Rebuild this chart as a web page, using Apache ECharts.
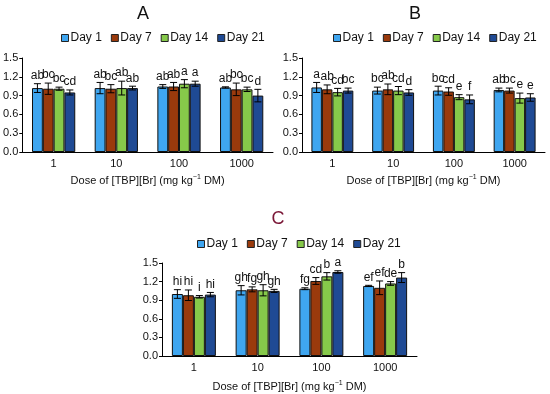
<!DOCTYPE html>
<html><head><meta charset="utf-8">
<script src="https://cdn.jsdelivr.net/npm/echarts@6/dist/echarts.min.js"></script>
<style>html,body{margin:0;padding:0;background:#fff}#c{width:550px;height:394px}</style>
</head><body><div id="c"></div>
<script>
const categories = ['1', '10', '100', '1000'];
const days = ['Day 1', 'Day 7', 'Day 14', 'Day 21'];
const yTicks = [0, 0.3, 0.6, 0.9, 1.2, 1.5];

// Panel A: means, errors, letters (per day, per dose)
const A_day1 = [1.02, 1.02, 1.045, 1.03];
const A_day7 = [1.01, 1.01, 1.045, 1.00];
const A_day14 = [1.01, 1.02, 1.09, 1.00];
const A_day21 = [0.95, 1.02, 1.09, 0.90];
const A_err1 = [0.07, 0.09, 0.03, 0.01];
const A_err7 = [0.09, 0.065, 0.065, 0.10];
const A_err14 = [0.025, 0.11, 0.065, 0.035];
const A_err21 = [0.04, 0.03, 0.04, 0.10];
const A_let1 = ['ab', 'ab', 'ab', 'ab'];
const A_let7 = ['bc', 'bc', 'ab', 'bc'];
const A_let14 = ['bc', 'ab', 'a', 'bc'];
const A_let21 = ['cd', 'ab', 'a', 'd'];

// Panel B
const B_day1 = [1.03, 0.98, 0.98, 0.99];
const B_day7 = [1.00, 1.00, 0.965, 0.98];
const B_day14 = [0.955, 0.98, 0.875, 0.86];
const B_day21 = [0.98, 0.95, 0.84, 0.87];
const B_err1 = [0.08, 0.055, 0.07, 0.03];
const B_err7 = [0.07, 0.085, 0.06, 0.04];
const B_err14 = [0.06, 0.065, 0.04, 0.08];
const B_err21 = [0.04, 0.045, 0.07, 0.06];
const B_let1 = ['a', 'bc', 'bc', 'ab'];
const B_let7 = ['ab', 'ab', 'cd', 'bc'];
const B_let14 = ['cd', 'cd', 'e', 'e'];
const B_let21 = ['bc', 'd', 'f', 'e'];

// Panel C
const C_day1 = [1.0, 1.06, 1.085, 1.13];
const C_day7 = [0.98, 1.075, 1.21, 1.10];
const C_day14 = [0.955, 1.06, 1.285, 1.17];
const C_day21 = [0.99, 1.05, 1.355, 1.265];
const C_err1 = [0.07, 0.075, 0.015, 0.01];
const C_err7 = [0.085, 0.04, 0.055, 0.11];
const C_err14 = [0.02, 0.09, 0.06, 0.03];
const C_err21 = [0.035, 0.025, 0.02, 0.08];
const C_let1 = ['hi', 'gh', 'fg', 'ef'];
const C_let7 = ['hi', 'fg', 'cd', 'ef'];
const C_let14 = ['i', 'gh', 'b', 'de'];
const C_let21 = ['hi', 'gh', 'a', 'b'];

const panels = [
  {title: 'A', means: [A_day1, A_day7, A_day14, A_day21], errs: [A_err1, A_err7, A_err14, A_err21], lets: [A_let1, A_let7, A_let14, A_let21]},
  {title: 'B', means: [B_day1, B_day7, B_day14, B_day21], errs: [B_err1, B_err7, B_err14, B_err21], lets: [B_let1, B_let7, B_let14, B_let21]},
  {title: 'C', means: [C_day1, C_day7, C_day14, C_day21], errs: [C_err1, C_err7, C_err14, C_err21], lets: [C_let1, C_let7, C_let14, C_let21]}
];

const colors = ['#3fa6f0', '#9a3a0c', '#86c94a', '#1f4a94'];
const FONT = 'Liberation Sans, Arial, sans-serif';
const GAP = 0.31;

const layout = [
  {grid: {left: 22, width: 251, top: 58, height: 94}, title: {left: 138, top: 0}, legend: {left: 140, top: 27}, titleColor: '#111', nameGap: 22},
  {grid: {left: 302, width: 243, top: 58, height: 94}, title: {left: 410, top: 0}, legend: {left: 412, top: 27}, titleColor: '#111', nameGap: 22},
  {grid: {left: 162, width: 255, top: 263, height: 93}, title: {left: 273, top: 205}, legend: {left: 276, top: 233}, titleColor: '#7a1636', nameGap: 24}
];

const option = {
  animation: false,
  textStyle: {fontFamily: FONT},
  title: [], legend: [], grid: [], xAxis: [], yAxis: [], series: []
};

panels.forEach((p, gi) => {
  const L = layout[gi];
  option.title.push({text: p.title, left: L.title.left, top: L.title.top, textAlign: 'center',
    textStyle: {fontFamily: FONT, fontSize: 18, fontWeight: 'normal', color: L.titleColor}});
  option.legend.push({data: days, left: L.legend.left - 84, top: L.legend.top, itemWidth: 7, itemHeight: 7, itemGap: 9,
    icon: 'rect', textStyle: {fontFamily: FONT, fontSize: 12, color: '#111', padding: [0, 0, 0, -3]},
    itemStyle: {borderColor: '#222', borderWidth: 1}});
  option.grid.push(Object.assign({containLabel: false}, L.grid));
  option.xAxis.push({type: 'category', gridIndex: gi, data: categories,
    axisLine: {lineStyle: {color: '#000', width: 1}}, axisTick: {show: false},
    axisLabel: {fontFamily: FONT, fontSize: 11, color: '#111', margin: 6},
    name: 'Dose of [TBP][Br] (mg kg{sup|−1} DM)', nameLocation: 'middle', nameGap: L.nameGap,
    nameTextStyle: {fontFamily: FONT, fontSize: 11, color: '#111',
      rich: {sup: {fontSize: 7, fontFamily: FONT, color: '#111', padding: [0, 0, 6, 0]}}}});
  option.yAxis.push({type: 'value', gridIndex: gi, min: 0, max: 1.5, interval: 0.3,
    axisLine: {show: true, lineStyle: {color: '#000', width: 1}},
    axisTick: {show: true, length: 3, lineStyle: {color: '#000'}},
    splitLine: {show: false},
    axisLabel: {fontFamily: FONT, fontSize: 11, color: '#111', margin: 4,
      formatter: v => yTicks.includes(Math.round(v * 10) / 10) ? v.toFixed(1) : ''}});
  p.means.forEach((m, di) => {
    option.series.push({type: 'bar', name: days[di], xAxisIndex: gi, yAxisIndex: gi, data: m,
      barCategoryGap: (GAP * 100) + '%', barGap: '0%',
      itemStyle: {color: colors[di], borderColor: '#111', borderWidth: 1}});
  });
  p.means.forEach((m, di) => {
    const data = m.map((v, ci) => [ci, v, p.errs[di][ci], p.lets[di][ci]]);
    option.series.push({type: 'custom', name: days[di], xAxisIndex: gi, yAxisIndex: gi, data: data, z: 10,
      renderItem: (params, api) => {
        const ci = api.value(0), v = api.value(1), e = api.value(2);
        const letter = data[params.dataIndex][3];
        const c = api.coord([ci, v]);
        const bw = api.size([1, 0])[0] * (1 - GAP) / 4;
        const x = c[0] + (di - 1.5) * bw;
        const yt = api.coord([ci, v + e])[1];
        const yb = api.coord([ci, v - e])[1];
        const cap = 3.5;
        const st = {stroke: '#000', lineWidth: 1};
        return {type: 'group', children: [
          {type: 'line', shape: {x1: x, y1: yt, x2: x, y2: yb}, style: st},
          {type: 'line', shape: {x1: x - cap, y1: yt, x2: x + cap, y2: yt}, style: st},
          {type: 'line', shape: {x1: x - cap, y1: yb, x2: x + cap, y2: yb}, style: st},
          {type: 'text', style: {text: letter, x: x, y: yt - 2, textAlign: 'center', textVerticalAlign: 'bottom',
            font: '12px ' + FONT, fill: '#111'}}
        ]};
      }});
  });
});

const chart = echarts.init(document.getElementById('c'), null, {renderer: 'canvas'});
chart.setOption(option);
</script></body></html>
